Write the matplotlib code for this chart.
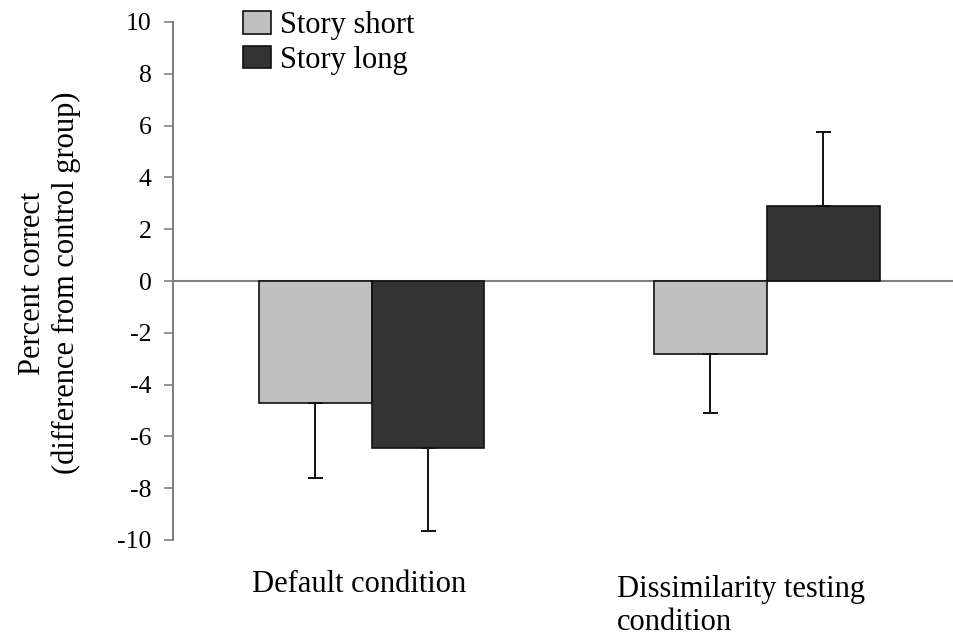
import numpy as np
import matplotlib.pyplot as plt

conditions = ['Default condition', 'Dissimilarity testing\ncondition']
series = ['Story short', 'Story long']
short_vals = [-4.7, -2.8]
long_vals = [-6.45, 2.9]
short_err = [2.9, 2.3]
long_err = [3.2, 2.85]
colors = ['#c0c0c0', '#333333']

plt.rcParams['font.family'] = ['Liberation Serif', 'DejaVu Serif']
plt.rcParams['axes.unicode_minus'] = False

W, H = 954, 640
fig = plt.figure(figsize=(W / 100, H / 100), dpi=100)
ax = fig.add_axes([173 / W, 1 - 540 / H, 1 - 173 / W, (540 - 22) / H])

x = np.arange(len(conditions))
w = 0.2857
ax.axhline(0, color='#808080', lw=1.5, zorder=1)

for i, (vals, errs) in enumerate([(short_vals, short_err), (long_vals, long_err)]):
    pos = x + (i - 0.5) * w
    vals = np.array(vals)
    errs = np.array(errs)
    lower = np.where(vals < 0, errs, 0)
    upper = np.where(vals >= 0, errs, 0)
    ax.bar(pos, vals, width=w, color=colors[i], edgecolor='#111111', lw=1.2,
           label=series[i], zorder=2)
    ax.errorbar(pos, vals, yerr=[lower, upper], fmt='none', ecolor='#111111',
                elinewidth=1.4, capsize=5.4, capthick=1.4, zorder=3)

ax.set_xlim(-0.502, 1.473)
ax.set_ylim(-10, 10)
ax.set_yticks(np.arange(-10, 11, 2))
ax.tick_params(axis='y', direction='out', length=6.5, width=1.2, color='#808080',
               labelsize=18.5, pad=9)
ax.set_xticks([])
for s in ['top', 'right', 'bottom']:
    ax.spines[s].set_visible(False)
ax.spines['left'].set_color('#808080')
ax.spines['left'].set_linewidth(1.5)

# category labels (first centred, second left aligned as in the original)
fig.text(359 / W, 1 - 592 / H, conditions[0], ha='center', va='baseline', fontsize=22)
# baseline of a multi-line text = its last line
fig.text(617 / W, 1 - 630 / H, conditions[1], ha='left', va='baseline', fontsize=22,
         linespacing=1.2)

fig.text(50 / W, 1 - 283 / H, 'Percent correct\n(difference from control group)',
         rotation=90, ha='center', va='center', fontsize=22, linespacing=1.2)

ax.legend(loc='upper left', bbox_to_anchor=((243 - 173) / 781, 1.021), frameon=False,
          fontsize=22, handlelength=0.92, handleheight=0.75, handletextpad=0.3,
          labelspacing=0.18, borderaxespad=0, borderpad=0)

fig.savefig('out.png', dpi=100)
